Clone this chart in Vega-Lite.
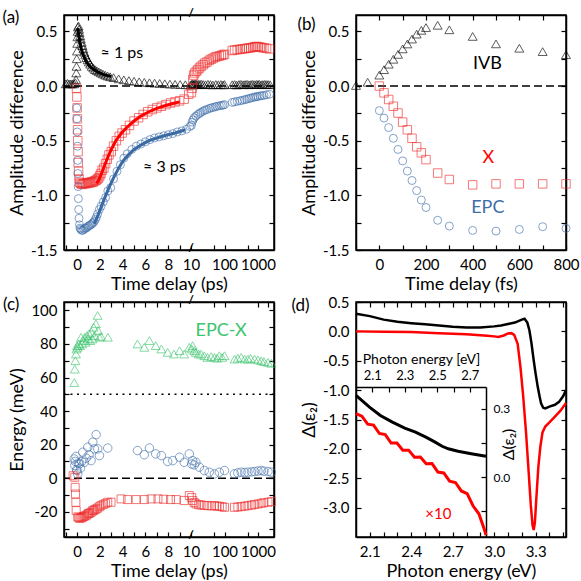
{
"$schema": "https://vega.github.io/schema/vega-lite/v6.json",
"padding": {"left": 1, "top": 6, "right": 0, "bottom": 0},
"config": {
 "font": "Lato",
 "view": {"stroke": "black", "strokeWidth": 1.5},
 "axis": {"grid": false, "domainColor": "black", "domainWidth": 1.5, "tickColor": "black", "tickWidth": 1.2, "tickSize": -5, "labelPadding": 12, "labelFont": "Lato", "labelFontSize": 15, "labelColor": "black", "titleFont": "Lato", "titleFontSize": 18, "titleFontWeight": "normal", "titleColor": "black", "titlePadding": 4, "labelFlush": false, "labelOverlap": false},
 "axisX": {"labelPadding": 12, "titlePadding": 3},
 "title": {"font": "Lato", "fontSize": 17, "fontWeight": "normal", "color": "black", "anchor": "start", "frame": "bounds", "offset": -20, "dx": -6},
 "text": {"font": "Lato"}
},
"resolve": {"scale": {"color": "independent", "stroke": "independent", "shape": "independent", "size": "independent", "strokeDash": "independent"}},
"datasets": {
 "a": [
  {"s":"IVB","t":-1.0,"v":0.02},{"s":"IVB","t":-0.85,"v":0.025},{"s":"IVB","t":-0.7,"v":0.02},{"s":"IVB","t":-0.55,"v":0.02},{"s":"IVB","t":-0.4,"v":0.02},{"s":"IVB","t":-0.25,"v":0.02},{"s":"IVB","t":-0.15,"v":0.03},{"s":"IVB","t":-0.1,"v":0.06},{"s":"IVB","t":-0.07,"v":0.12},{"s":"IVB","t":-0.05,"v":0.18},{"s":"IVB","t":-0.03,"v":0.25},{"s":"IVB","t":-0.01,"v":0.32},{"s":"IVB","t":0.01,"v":0.39},{"s":"IVB","t":0.03,"v":0.45},{"s":"IVB","t":0.05,"v":0.5},{"s":"IVB","t":0.08,"v":0.54},{"s":"IVB","t":0.12,"v":0.55},{"s":"IVB","t":0.17,"v":0.52},{"s":"IVB","t":0.22,"v":0.49},{"s":"IVB","t":0.27,"v":0.46},{"s":"IVB","t":0.33,"v":0.43},{"s":"IVB","t":0.4,"v":0.4},{"s":"IVB","t":0.47,"v":0.37},{"s":"IVB","t":0.55,"v":0.34},{"s":"IVB","t":0.63,"v":0.31},{"s":"IVB","t":0.72,"v":0.285},{"s":"IVB","t":0.82,"v":0.26},{"s":"IVB","t":0.92,"v":0.24},{"s":"IVB","t":1.03,"v":0.22},{"s":"IVB","t":1.15,"v":0.2},{"s":"IVB","t":1.28,"v":0.18},{"s":"IVB","t":1.42,"v":0.165},{"s":"IVB","t":1.57,"v":0.15},{"s":"IVB","t":1.73,"v":0.14},{"s":"IVB","t":1.9,"v":0.13},{"s":"IVB","t":2.08,"v":0.12},{"s":"IVB","t":2.27,"v":0.11},{"s":"IVB","t":2.47,"v":0.1},{"s":"IVB","t":2.68,"v":0.092},{"s":"IVB","t":2.9,"v":0.085},{"s":"IVB","t":3.2,"v":0.077},{"s":"IVB","t":3.65,"v":0.066},{"s":"IVB","t":4.1,"v":0.057},{"s":"IVB","t":4.55,"v":0.05},{"s":"IVB","t":5.0,"v":0.044},{"s":"IVB","t":5.45,"v":0.039},{"s":"IVB","t":5.9,"v":0.034},{"s":"IVB","t":6.35,"v":0.03},{"s":"IVB","t":6.8,"v":0.027},{"s":"IVB","t":7.25,"v":0.024},{"s":"IVB","t":7.7,"v":0.021},{"s":"IVB","t":8.15,"v":0.018},{"s":"IVB","t":8.6,"v":0.016},{"s":"IVB","t":9.05,"v":0.014},{"s":"IVB","t":9.5,"v":0.012},{"s":"IVB","t":9.95,"v":0.01},
  {"s":"IVB","t":10.5,"v":0.015},{"s":"IVB","t":11,"v":0.02},{"s":"IVB","t":11.6,"v":0.01},{"s":"IVB","t":12.3,"v":0.018},{"s":"IVB","t":13,"v":0.014},{"s":"IVB","t":14,"v":0.02},{"s":"IVB","t":15,"v":0.012},{"s":"IVB","t":16.5,"v":0.016},{"s":"IVB","t":18,"v":0.014},{"s":"IVB","t":20,"v":0.018},{"s":"IVB","t":23,"v":0.014},{"s":"IVB","t":27,"v":0.012},{"s":"IVB","t":32,"v":0.016},{"s":"IVB","t":38,"v":0.014},{"s":"IVB","t":45,"v":0.01},{"s":"IVB","t":55,"v":0.014},{"s":"IVB","t":65,"v":0.012},{"s":"IVB","t":78,"v":0.014},{"s":"IVB","t":90,"v":0.01},{"s":"IVB","t":100,"v":0.014},{"s":"IVB","t":170,"v":0.012},{"s":"IVB","t":200,"v":0.014},{"s":"IVB","t":230,"v":0.01},{"s":"IVB","t":270,"v":0.014},{"s":"IVB","t":310,"v":0.016},{"s":"IVB","t":360,"v":0.012},{"s":"IVB","t":410,"v":0.014},{"s":"IVB","t":470,"v":0.016},{"s":"IVB","t":540,"v":0.012},{"s":"IVB","t":620,"v":0.014},{"s":"IVB","t":700,"v":0.016},{"s":"IVB","t":800,"v":0.013},{"s":"IVB","t":900,"v":0.015},{"s":"IVB","t":1000,"v":0.014},{"s":"IVB","t":1100,"v":0.016},{"s":"IVB","t":1250,"v":0.012},{"s":"IVB","t":1400,"v":0.014},{"s":"IVB","t":1600,"v":0.016},{"s":"IVB","t":1800,"v":0.013},{"s":"IVB","t":2000,"v":0.014},{"s":"IVB","t":2300,"v":0.012},
  {"s":"X","t":-0.05,"v":-0.02},{"s":"X","t":-0.02,"v":-0.1},{"s":"X","t":0.0,"v":-0.2},{"s":"X","t":0.02,"v":-0.3},{"s":"X","t":0.04,"v":-0.4},{"s":"X","t":0.06,"v":-0.5},{"s":"X","t":0.08,"v":-0.6},{"s":"X","t":0.1,"v":-0.7},{"s":"X","t":0.13,"v":-0.78},{"s":"X","t":0.17,"v":-0.85},{"s":"X","t":0.22,"v":-0.88},{"s":"X","t":0.3,"v":-0.89},{"s":"X","t":0.4,"v":-0.9},{"s":"X","t":0.5,"v":-0.895},{"s":"X","t":0.6,"v":-0.89},{"s":"X","t":0.7,"v":-0.895},{"s":"X","t":0.8,"v":-0.89},{"s":"X","t":0.9,"v":-0.885},{"s":"X","t":1.0,"v":-0.89},{"s":"X","t":1.1,"v":-0.88},{"s":"X","t":1.2,"v":-0.885},{"s":"X","t":1.3,"v":-0.875},{"s":"X","t":1.4,"v":-0.88},{"s":"X","t":1.5,"v":-0.87},{"s":"X","t":1.6,"v":-0.865},{"s":"X","t":1.7,"v":-0.86},{"s":"X","t":1.8,"v":-0.85},{"s":"X","t":1.9,"v":-0.84},{"s":"X","t":2.0,"v":-0.82},{"s":"X","t":2.1,"v":-0.8},{"s":"X","t":2.2,"v":-0.77},{"s":"X","t":2.35,"v":-0.75},{"s":"X","t":2.5,"v":-0.71},{"s":"X","t":2.65,"v":-0.67},{"s":"X","t":2.8,"v":-0.63},{"s":"X","t":3.0,"v":-0.6},{"s":"X","t":3.2,"v":-0.55},{"s":"X","t":3.45,"v":-0.5},{"s":"X","t":3.7,"v":-0.46},{"s":"X","t":3.95,"v":-0.43},{"s":"X","t":4.25,"v":-0.4},{"s":"X","t":4.6,"v":-0.36},{"s":"X","t":5.0,"v":-0.32},{"s":"X","t":5.4,"v":-0.29},{"s":"X","t":5.8,"v":-0.26},{"s":"X","t":6.2,"v":-0.235},{"s":"X","t":6.6,"v":-0.215},{"s":"X","t":7.0,"v":-0.2},{"s":"X","t":7.4,"v":-0.185},{"s":"X","t":7.8,"v":-0.17},{"s":"X","t":8.2,"v":-0.155},{"s":"X","t":8.6,"v":-0.145},{"s":"X","t":9.0,"v":-0.135},{"s":"X","t":9.4,"v":-0.12},{"s":"X","t":9.8,"v":-0.075},
  {"s":"X","t":10.3,"v":-0.06},{"s":"X","t":10.8,"v":-0.02},{"s":"X","t":11.3,"v":0.06},{"s":"X","t":12,"v":0.1},{"s":"X","t":13,"v":0.12},{"s":"X","t":14.5,"v":0.135},{"s":"X","t":16,"v":0.15},{"s":"X","t":18,"v":0.165},{"s":"X","t":20,"v":0.18},{"s":"X","t":23,"v":0.195},{"s":"X","t":26,"v":0.21},{"s":"X","t":30,"v":0.22},{"s":"X","t":35,"v":0.235},{"s":"X","t":40,"v":0.245},{"s":"X","t":46,"v":0.255},{"s":"X","t":53,"v":0.265},{"s":"X","t":60,"v":0.27},{"s":"X","t":70,"v":0.275},{"s":"X","t":80,"v":0.28},{"s":"X","t":90,"v":0.285},{"s":"X","t":100,"v":0.29},{"s":"X","t":170,"v":0.325},{"s":"X","t":200,"v":0.33},{"s":"X","t":240,"v":0.333},{"s":"X","t":290,"v":0.336},{"s":"X","t":340,"v":0.34},{"s":"X","t":400,"v":0.342},{"s":"X","t":460,"v":0.345},{"s":"X","t":530,"v":0.348},{"s":"X","t":610,"v":0.35},{"s":"X","t":700,"v":0.355},{"s":"X","t":800,"v":0.36},{"s":"X","t":900,"v":0.362},{"s":"X","t":1000,"v":0.36},{"s":"X","t":1150,"v":0.357},{"s":"X","t":1300,"v":0.352},{"s":"X","t":1500,"v":0.35},{"s":"X","t":1800,"v":0.345},{"s":"X","t":2200,"v":0.34},
  {"s":"EPC","t":-0.03,"v":-0.2},{"s":"EPC","t":-0.01,"v":-0.3},{"s":"EPC","t":0.01,"v":-0.42},{"s":"EPC","t":0.03,"v":-0.55},{"s":"EPC","t":0.05,"v":-0.68},{"s":"EPC","t":0.07,"v":-0.8},{"s":"EPC","t":0.09,"v":-0.92},{"s":"EPC","t":0.11,"v":-1.03},{"s":"EPC","t":0.14,"v":-1.13},{"s":"EPC","t":0.17,"v":-1.21},{"s":"EPC","t":0.21,"v":-1.27},{"s":"EPC","t":0.26,"v":-1.3},{"s":"EPC","t":0.32,"v":-1.31},{"s":"EPC","t":0.4,"v":-1.32},{"s":"EPC","t":0.5,"v":-1.32},{"s":"EPC","t":0.6,"v":-1.31},{"s":"EPC","t":0.7,"v":-1.3},{"s":"EPC","t":0.8,"v":-1.3},{"s":"EPC","t":0.9,"v":-1.29},{"s":"EPC","t":1.0,"v":-1.28},{"s":"EPC","t":1.1,"v":-1.275},{"s":"EPC","t":1.2,"v":-1.27},{"s":"EPC","t":1.3,"v":-1.26},{"s":"EPC","t":1.4,"v":-1.25},{"s":"EPC","t":1.5,"v":-1.24},{"s":"EPC","t":1.6,"v":-1.22},{"s":"EPC","t":1.7,"v":-1.2},{"s":"EPC","t":1.8,"v":-1.17},{"s":"EPC","t":1.95,"v":-1.13},{"s":"EPC","t":2.1,"v":-1.1},{"s":"EPC","t":2.3,"v":-1.06},{"s":"EPC","t":2.5,"v":-1.02},{"s":"EPC","t":2.7,"v":-0.96},{"s":"EPC","t":2.95,"v":-0.93},{"s":"EPC","t":3.2,"v":-0.85},{"s":"EPC","t":3.5,"v":-0.78},{"s":"EPC","t":3.8,"v":-0.72},{"s":"EPC","t":4.1,"v":-0.66},{"s":"EPC","t":4.4,"v":-0.62},{"s":"EPC","t":4.8,"v":-0.58},{"s":"EPC","t":5.2,"v":-0.55},{"s":"EPC","t":5.6,"v":-0.53},{"s":"EPC","t":6.0,"v":-0.51},{"s":"EPC","t":6.4,"v":-0.49},{"s":"EPC","t":6.8,"v":-0.475},{"s":"EPC","t":7.2,"v":-0.465},{"s":"EPC","t":7.6,"v":-0.455},{"s":"EPC","t":8.0,"v":-0.445},{"s":"EPC","t":8.4,"v":-0.435},{"s":"EPC","t":8.8,"v":-0.42},{"s":"EPC","t":9.2,"v":-0.41},{"s":"EPC","t":9.6,"v":-0.395},{"s":"EPC","t":9.9,"v":-0.37},
  {"s":"EPC","t":10.3,"v":-0.36},{"s":"EPC","t":10.8,"v":-0.33},{"s":"EPC","t":11.5,"v":-0.31},{"s":"EPC","t":12.5,"v":-0.29},{"s":"EPC","t":14,"v":-0.275},{"s":"EPC","t":16,"v":-0.26},{"s":"EPC","t":18,"v":-0.25},{"s":"EPC","t":20,"v":-0.24},{"s":"EPC","t":23,"v":-0.23},{"s":"EPC","t":26,"v":-0.22},{"s":"EPC","t":30,"v":-0.215},{"s":"EPC","t":35,"v":-0.205},{"s":"EPC","t":40,"v":-0.2},{"s":"EPC","t":46,"v":-0.195},{"s":"EPC","t":53,"v":-0.19},{"s":"EPC","t":60,"v":-0.185},{"s":"EPC","t":70,"v":-0.18},{"s":"EPC","t":80,"v":-0.178},{"s":"EPC","t":90,"v":-0.175},{"s":"EPC","t":100,"v":-0.17},{"s":"EPC","t":170,"v":-0.15},{"s":"EPC","t":200,"v":-0.145},{"s":"EPC","t":240,"v":-0.14},{"s":"EPC","t":290,"v":-0.135},{"s":"EPC","t":340,"v":-0.13},{"s":"EPC","t":400,"v":-0.125},{"s":"EPC","t":460,"v":-0.12},{"s":"EPC","t":530,"v":-0.115},{"s":"EPC","t":610,"v":-0.11},{"s":"EPC","t":700,"v":-0.105},{"s":"EPC","t":800,"v":-0.1},{"s":"EPC","t":900,"v":-0.097},{"s":"EPC","t":1000,"v":-0.095},{"s":"EPC","t":1150,"v":-0.09},{"s":"EPC","t":1300,"v":-0.088},{"s":"EPC","t":1500,"v":-0.085},{"s":"EPC","t":1800,"v":-0.08},{"s":"EPC","t":2200,"v":-0.075}
 ],
 "afit": [
  {"s":"IVB","t":0.05,"v":0.53},{"s":"IVB","t":0.15,"v":0.46},{"s":"IVB","t":0.25,"v":0.4},{"s":"IVB","t":0.35,"v":0.35},{"s":"IVB","t":0.45,"v":0.31},{"s":"IVB","t":0.6,"v":0.27},{"s":"IVB","t":0.8,"v":0.225},{"s":"IVB","t":1.0,"v":0.195},{"s":"IVB","t":1.25,"v":0.168},{"s":"IVB","t":1.5,"v":0.148},{"s":"IVB","t":1.8,"v":0.128},{"s":"IVB","t":2.1,"v":0.115},{"s":"IVB","t":2.4,"v":0.103},{"s":"IVB","t":2.7,"v":0.095},{"s":"IVB","t":3.0,"v":0.088},
  {"s":"X","t":1.7,"v":-0.89},{"s":"X","t":1.9,"v":-0.86},{"s":"X","t":2.1,"v":-0.81},{"s":"X","t":2.4,"v":-0.73},{"s":"X","t":2.7,"v":-0.65},{"s":"X","t":3.0,"v":-0.58},{"s":"X","t":3.4,"v":-0.5},{"s":"X","t":3.9,"v":-0.43},{"s":"X","t":4.4,"v":-0.375},{"s":"X","t":5.0,"v":-0.32},{"s":"X","t":5.6,"v":-0.275},{"s":"X","t":6.3,"v":-0.235},{"s":"X","t":7.0,"v":-0.205},{"s":"X","t":7.7,"v":-0.18},{"s":"X","t":8.4,"v":-0.16},{"s":"X","t":9.0,"v":-0.145},
  {"s":"EPC","t":1.5,"v":-1.26},{"s":"EPC","t":1.8,"v":-1.19},{"s":"EPC","t":2.1,"v":-1.11},{"s":"EPC","t":2.4,"v":-1.03},{"s":"EPC","t":2.8,"v":-0.93},{"s":"EPC","t":3.2,"v":-0.84},{"s":"EPC","t":3.6,"v":-0.76},{"s":"EPC","t":4.0,"v":-0.69},{"s":"EPC","t":4.5,"v":-0.63},{"s":"EPC","t":5.0,"v":-0.58},{"s":"EPC","t":5.6,"v":-0.54},{"s":"EPC","t":6.3,"v":-0.5},{"s":"EPC","t":7.0,"v":-0.475},{"s":"EPC","t":7.8,"v":-0.45},{"s":"EPC","t":8.6,"v":-0.43},{"s":"EPC","t":9.5,"v":-0.4}
 ],
 "b": [
  {"s":"IVB","t":-100,"v":0.005},{"s":"IVB","t":-50,"v":0.035},{"s":"IVB","t":0,"v":0.1},{"s":"IVB","t":20,"v":0.15},{"s":"IVB","t":40,"v":0.2},{"s":"IVB","t":60,"v":0.245},{"s":"IVB","t":80,"v":0.29},{"s":"IVB","t":100,"v":0.34},{"s":"IVB","t":120,"v":0.385},{"s":"IVB","t":140,"v":0.43},{"s":"IVB","t":160,"v":0.475},{"s":"IVB","t":180,"v":0.51},{"s":"IVB","t":200,"v":0.535},{"s":"IVB","t":250,"v":0.556},{"s":"IVB","t":300,"v":0.515},{"s":"IVB","t":400,"v":0.454},{"s":"IVB","t":500,"v":0.386},{"s":"IVB","t":600,"v":0.346},{"s":"IVB","t":700,"v":0.315},{"s":"IVB","t":800,"v":0.287},
  {"s":"X","t":0,"v":0.0},{"s":"X","t":20,"v":-0.062},{"s":"X","t":40,"v":-0.123},{"s":"X","t":60,"v":-0.185},{"s":"X","t":80,"v":-0.247},{"s":"X","t":100,"v":-0.33},{"s":"X","t":120,"v":-0.4},{"s":"X","t":140,"v":-0.478},{"s":"X","t":160,"v":-0.556},{"s":"X","t":180,"v":-0.611},{"s":"X","t":200,"v":-0.673},{"s":"X","t":250,"v":-0.796},{"s":"X","t":300,"v":-0.855},{"s":"X","t":400,"v":-0.904},{"s":"X","t":500,"v":-0.895},{"s":"X","t":600,"v":-0.895},{"s":"X","t":700,"v":-0.895},{"s":"X","t":800,"v":-0.895},
  {"s":"EPC","t":0,"v":-0.225},{"s":"EPC","t":20,"v":-0.293},{"s":"EPC","t":40,"v":-0.38},{"s":"EPC","t":60,"v":-0.478},{"s":"EPC","t":80,"v":-0.58},{"s":"EPC","t":100,"v":-0.685},{"s":"EPC","t":120,"v":-0.778},{"s":"EPC","t":140,"v":-0.864},{"s":"EPC","t":160,"v":-0.957},{"s":"EPC","t":180,"v":-1.043},{"s":"EPC","t":200,"v":-1.111},{"s":"EPC","t":250,"v":-1.228},{"s":"EPC","t":300,"v":-1.281},{"s":"EPC","t":400,"v":-1.321},{"s":"EPC","t":500,"v":-1.327},{"s":"EPC","t":600,"v":-1.312},{"s":"EPC","t":700,"v":-1.287},{"s":"EPC","t":800,"v":-1.302}
 ],
 "c": [
  {"s":"EPC-X","t":-0.25,"e":57},{"s":"EPC-X","t":-0.2,"e":65},{"s":"EPC-X","t":-0.15,"e":70},{"s":"EPC-X","t":-0.1,"e":74},{"s":"EPC-X","t":-0.05,"e":77},{"s":"EPC-X","t":0,"e":79},{"s":"EPC-X","t":0.05,"e":78},{"s":"EPC-X","t":0.15,"e":80},{"s":"EPC-X","t":0.25,"e":79},{"s":"EPC-X","t":0.35,"e":84},{"s":"EPC-X","t":0.45,"e":80},{"s":"EPC-X","t":0.55,"e":82},{"s":"EPC-X","t":0.65,"e":84},{"s":"EPC-X","t":0.75,"e":81},{"s":"EPC-X","t":0.85,"e":85},{"s":"EPC-X","t":0.95,"e":83},{"s":"EPC-X","t":1.05,"e":86},{"s":"EPC-X","t":1.15,"e":82},{"s":"EPC-X","t":1.25,"e":87},{"s":"EPC-X","t":1.35,"e":83},{"s":"EPC-X","t":1.45,"e":90},{"s":"EPC-X","t":1.55,"e":85},{"s":"EPC-X","t":1.65,"e":92},{"s":"EPC-X","t":1.8,"e":97},{"s":"EPC-X","t":1.85,"e":88},{"s":"EPC-X","t":1.95,"e":84},{"s":"EPC-X","t":2.1,"e":84.5},{"s":"EPC-X","t":2.7,"e":84},{"s":"EPC-X","t":5.3,"e":80},{"s":"EPC-X","t":5.9,"e":78},{"s":"EPC-X","t":6.35,"e":82},{"s":"EPC-X","t":6.9,"e":79},{"s":"EPC-X","t":7.4,"e":77},{"s":"EPC-X","t":7.95,"e":75},{"s":"EPC-X","t":8.5,"e":74},{"s":"EPC-X","t":9.0,"e":76},{"s":"EPC-X","t":9.4,"e":74},{"s":"EPC-X","t":9.85,"e":78},{"s":"EPC-X","t":10.5,"e":77},{"s":"EPC-X","t":11.2,"e":79},{"s":"EPC-X","t":12.5,"e":76},{"s":"EPC-X","t":14,"e":75},{"s":"EPC-X","t":17,"e":74},{"s":"EPC-X","t":20,"e":74},{"s":"EPC-X","t":25,"e":73},{"s":"EPC-X","t":31,"e":72},{"s":"EPC-X","t":40,"e":72.5},{"s":"EPC-X","t":50,"e":72},{"s":"EPC-X","t":60,"e":71.5},{"s":"EPC-X","t":70,"e":73},{"s":"EPC-X","t":85,"e":72},{"s":"EPC-X","t":100,"e":73},{"s":"EPC-X","t":200,"e":71},{"s":"EPC-X","t":250,"e":71.5},{"s":"EPC-X","t":314,"e":72},{"s":"EPC-X","t":400,"e":71},{"s":"EPC-X","t":500,"e":71},{"s":"EPC-X","t":600,"e":71.5},{"s":"EPC-X","t":786,"e":71},{"s":"EPC-X","t":1000,"e":70.5},{"s":"EPC-X","t":1250,"e":70},{"s":"EPC-X","t":1500,"e":69.5},{"s":"EPC-X","t":1985,"e":69},{"s":"EPC-X","t":2500,"e":68.5},
  {"s":"EPC","t":-0.25,"e":11.5},{"s":"EPC","t":-0.2,"e":7.6},{"s":"EPC","t":-0.15,"e":10},{"s":"EPC","t":-0.1,"e":13},{"s":"EPC","t":-0.05,"e":5},{"s":"EPC","t":0,"e":4.6},{"s":"EPC","t":0.05,"e":2.6},{"s":"EPC","t":0.1,"e":9},{"s":"EPC","t":0.2,"e":8.5},{"s":"EPC","t":0.3,"e":6},{"s":"EPC","t":0.4,"e":10},{"s":"EPC","t":0.5,"e":15.5},{"s":"EPC","t":0.64,"e":9.5},{"s":"EPC","t":0.8,"e":12},{"s":"EPC","t":0.94,"e":18.5},{"s":"EPC","t":1.05,"e":14},{"s":"EPC","t":1.23,"e":10.5},{"s":"EPC","t":1.38,"e":21.5},{"s":"EPC","t":1.52,"e":17.5},{"s":"EPC","t":1.67,"e":26},{"s":"EPC","t":1.81,"e":17.5},{"s":"EPC","t":1.96,"e":13.5},{"s":"EPC","t":2.69,"e":18},{"s":"EPC","t":5.3,"e":16.5},{"s":"EPC","t":5.9,"e":14},{"s":"EPC","t":6.35,"e":18},{"s":"EPC","t":6.9,"e":14.5},{"s":"EPC","t":7.4,"e":13.5},{"s":"EPC","t":7.95,"e":10},{"s":"EPC","t":8.4,"e":10.5},{"s":"EPC","t":9.0,"e":12.5},{"s":"EPC","t":9.4,"e":9.5},{"s":"EPC","t":9.85,"e":14.5},{"s":"EPC","t":10.5,"e":8.5},{"s":"EPC","t":11.2,"e":10.5},{"s":"EPC","t":12.5,"e":8},{"s":"EPC","t":14,"e":9.5},{"s":"EPC","t":17.7,"e":6.6},{"s":"EPC","t":25,"e":4.6},{"s":"EPC","t":35,"e":3.6},{"s":"EPC","t":50,"e":2.6},{"s":"EPC","t":70,"e":3.6},{"s":"EPC","t":100,"e":4.6},{"s":"EPC","t":198,"e":2.6},{"s":"EPC","t":250,"e":3.2},{"s":"EPC","t":314,"e":3.6},{"s":"EPC","t":400,"e":3.4},{"s":"EPC","t":500,"e":3.6},{"s":"EPC","t":640,"e":3.8},{"s":"EPC","t":786,"e":4},{"s":"EPC","t":1000,"e":4.3},{"s":"EPC","t":1250,"e":4.6},{"s":"EPC","t":1500,"e":4.2},{"s":"EPC","t":1985,"e":4},{"s":"EPC","t":2500,"e":3.6},
  {"s":"X","t":-0.35,"e":1.5},{"s":"X","t":-0.2,"e":0.6},{"s":"X","t":-0.17,"e":-5.4},{"s":"X","t":-0.14,"e":-9.4},{"s":"X","t":-0.11,"e":-14.3},{"s":"X","t":-0.08,"e":-19.3},{"s":"X","t":0.06,"e":-23},{"s":"X","t":0.15,"e":-23.5},{"s":"X","t":0.25,"e":-24},{"s":"X","t":0.35,"e":-23.3},{"s":"X","t":0.45,"e":-23.5},{"s":"X","t":0.55,"e":-22.8},{"s":"X","t":0.65,"e":-22.5},{"s":"X","t":0.79,"e":-22.3},{"s":"X","t":0.9,"e":-21.5},{"s":"X","t":1.0,"e":-21},{"s":"X","t":1.1,"e":-20.8},{"s":"X","t":1.23,"e":-20.3},{"s":"X","t":1.35,"e":-19.5},{"s":"X","t":1.45,"e":-19.2},{"s":"X","t":1.55,"e":-18.7},{"s":"X","t":1.67,"e":-18.3},{"s":"X","t":1.8,"e":-17.8},{"s":"X","t":1.95,"e":-17},{"s":"X","t":2.1,"e":-16.3},{"s":"X","t":2.3,"e":-15.6},{"s":"X","t":2.5,"e":-15},{"s":"X","t":2.69,"e":-14.3},{"s":"X","t":2.98,"e":-14.3},{"s":"X","t":3.86,"e":-12.3},{"s":"X","t":4.44,"e":-12.7},{"s":"X","t":5.18,"e":-12.7},{"s":"X","t":5.9,"e":-12.7},{"s":"X","t":6.5,"e":-12.3},{"s":"X","t":7.1,"e":-12.3},{"s":"X","t":7.6,"e":-12.5},{"s":"X","t":8.2,"e":-12.7},{"s":"X","t":8.7,"e":-12.7},{"s":"X","t":9.4,"e":-13.3},{"s":"X","t":9.85,"e":-10.3},{"s":"X","t":10.5,"e":-11.5},{"s":"X","t":11.2,"e":-13.3},{"s":"X","t":12.5,"e":-14.5},{"s":"X","t":14.1,"e":-15.3},{"s":"X","t":17,"e":-15.8},{"s":"X","t":20,"e":-15.9},{"s":"X","t":25,"e":-16.2},{"s":"X","t":31.6,"e":-16.3},{"s":"X","t":40,"e":-16.5},{"s":"X","t":50,"e":-16.3},{"s":"X","t":60,"e":-16.6},{"s":"X","t":70.6,"e":-16.7},{"s":"X","t":85,"e":-17},{"s":"X","t":100,"e":-17.3},{"s":"X","t":198,"e":-17.3},{"s":"X","t":250,"e":-17.1},{"s":"X","t":314,"e":-16.9},{"s":"X","t":400,"e":-16.6},{"s":"X","t":500,"e":-16.3},{"s":"X","t":640,"e":-16},{"s":"X","t":786,"e":-15.7},{"s":"X","t":1000,"e":-15.3},{"s":"X","t":1250,"e":-14.9},{"s":"X","t":1500,"e":-14.6},{"s":"X","t":1985,"e":-14.3},{"s":"X","t":2500,"e":-13.9}
 ],
 "d": [
  {"s":"k","x":2.0,"y":0.3},{"s":"k","x":2.1,"y":0.26},{"s":"k","x":2.2,"y":0.2},{"s":"k","x":2.3,"y":0.165},{"s":"k","x":2.4,"y":0.14},{"s":"k","x":2.5,"y":0.12},{"s":"k","x":2.6,"y":0.1},{"s":"k","x":2.7,"y":0.08},{"s":"k","x":2.8,"y":0.068},{"s":"k","x":2.9,"y":0.065},{"s":"k","x":3.0,"y":0.085},{"s":"k","x":3.05,"y":0.1},{"s":"k","x":3.1,"y":0.125},{"s":"k","x":3.15,"y":0.15},{"s":"k","x":3.2,"y":0.2},{"s":"k","x":3.22,"y":0.215},{"s":"k","x":3.24,"y":0.15},{"s":"k","x":3.255,"y":0.02},{"s":"k","x":3.27,"y":-0.2},{"s":"k","x":3.286,"y":-0.49},{"s":"k","x":3.3,"y":-0.72},{"s":"k","x":3.315,"y":-0.94},{"s":"k","x":3.33,"y":-1.12},{"s":"k","x":3.34,"y":-1.23},{"s":"k","x":3.355,"y":-1.3},{"s":"k","x":3.37,"y":-1.31},{"s":"k","x":3.4,"y":-1.28},{"s":"k","x":3.44,"y":-1.25},{"s":"k","x":3.47,"y":-1.2},{"s":"k","x":3.5,"y":-1.1},{"s":"k","x":3.52,"y":-1.0},
  {"s":"r","x":2.0,"y":0.0},{"s":"r","x":2.2,"y":-0.005},{"s":"r","x":2.4,"y":-0.01},{"s":"r","x":2.6,"y":-0.03},{"s":"r","x":2.8,"y":-0.05},{"s":"r","x":2.95,"y":-0.075},{"s":"r","x":3.0,"y":-0.085},{"s":"r","x":3.03,"y":-0.095},{"s":"r","x":3.07,"y":-0.07},{"s":"r","x":3.1,"y":-0.035},{"s":"r","x":3.125,"y":-0.03},{"s":"r","x":3.145,"y":-0.06},{"s":"r","x":3.17,"y":-0.21},{"s":"r","x":3.19,"y":-0.6},{"s":"r","x":3.21,"y":-1.1},{"s":"r","x":3.23,"y":-1.7},{"s":"r","x":3.25,"y":-2.4},{"s":"r","x":3.265,"y":-2.95},{"s":"r","x":3.278,"y":-3.3},{"s":"r","x":3.286,"y":-3.38},{"s":"r","x":3.295,"y":-3.25},{"s":"r","x":3.305,"y":-2.85},{"s":"r","x":3.32,"y":-2.3},{"s":"r","x":3.335,"y":-1.95},{"s":"r","x":3.35,"y":-1.72},{"s":"r","x":3.37,"y":-1.62},{"s":"r","x":3.4,"y":-1.55},{"s":"r","x":3.44,"y":-1.45},{"s":"r","x":3.48,"y":-1.35},{"s":"r","x":3.52,"y":-1.22}
 ],
 "dins": [
  {"s":"k","x":2.0,"y":0.358},{"s":"k","x":2.083,"y":0.307},{"s":"k","x":2.15,"y":0.27},{"s":"k","x":2.224,"y":0.241},{"s":"k","x":2.3,"y":0.215},{"s":"k","x":2.366,"y":0.197},{"s":"k","x":2.43,"y":0.175},{"s":"k","x":2.487,"y":0.153},{"s":"k","x":2.53,"y":0.135},{"s":"k","x":2.568,"y":0.124},{"s":"k","x":2.628,"y":0.113},{"s":"k","x":2.709,"y":0.102},{"s":"k","x":2.8,"y":0.091},
  {"s":"r","x":2.0,"y":0.278},{"s":"r","x":2.036,"y":0.267},{"s":"r","x":2.072,"y":0.232},{"s":"r","x":2.108,"y":0.228},{"s":"r","x":2.144,"y":0.191},{"s":"r","x":2.18,"y":0.186},{"s":"r","x":2.216,"y":0.149},{"s":"r","x":2.252,"y":0.149},{"s":"r","x":2.288,"y":0.118},{"s":"r","x":2.324,"y":0.118},{"s":"r","x":2.36,"y":0.087},{"s":"r","x":2.396,"y":0.088},{"s":"r","x":2.432,"y":0.058},{"s":"r","x":2.468,"y":0.059},{"s":"r","x":2.504,"y":0.022},{"s":"r","x":2.54,"y":0.018},{"s":"r","x":2.576,"y":-0.018},{"s":"r","x":2.612,"y":-0.024},{"s":"r","x":2.648,"y":-0.061},{"s":"r","x":2.684,"y":-0.073},{"s":"r","x":2.72,"y":-0.126},{"s":"r","x":2.756,"y":-0.161},{"s":"r","x":2.79,"y":-0.23},{"s":"r","x":2.8,"y":-0.255}
 ]
},
"bounds": "flush",
"columns": 2,
"spacing": {"row": 52, "column": 82},
"concat": [
 {"width": 210, "height": 235, "title": {"text": "(a)"},
  "resolve": {"scale": {"x": "independent"}, "axis": {"x": "independent", "y": "independent"}},
  "layer": [
   {"resolve": {"axis": {"x": "independent", "y": "independent"}},
    "layer": [
     {"data": {"values": [{"v": 0}]}, "mark": {"type": "rule", "strokeDash": [8, 4], "strokeWidth": 1.5, "color": "black"},
      "encoding": {"y": {"field": "v", "type": "quantitative", "scale": {"domain": [-1.5, 0.65], "nice": false, "zero": false}, "axis": null}}},
     {"data": {"name": "a"}, "transform": [{"filter": "datum.t <= 10"}], "mark": {"type": "point", "filled": false, "strokeWidth": 1, "strokeOpacity": 0.9},
      "encoding": {
       "x": {"field": "t", "type": "quantitative", "scale": {"domain": [-1.15, 10], "range": [0, 127], "nice": false, "zero": false}, "axis": {"orient": "bottom", "title": "Time delay (ps)", "titleX": 105, "values": [-1,0,1,2,3,4,5,6,7,8,9,10], "labelExpr": "datum.value % 2 == 0 && datum.value >= 0 ? format(datum.value, 'd') : ''"}},
       "y": {"field": "v", "type": "quantitative", "scale": {"domain": [-1.5, 0.65], "nice": false, "zero": false}, "axis": {"orient": "left", "title": "Amplitude difference", "values": [-1.5,-1.25,-1,-0.75,-0.5,-0.25,0,0.25,0.5], "labelExpr": "datum.value % 0.5 == 0 ? replace(format(datum.value, '.1f'), '\u2212', '-') : ''"}},
       "shape": {"field": "s", "type": "nominal", "scale": {"domain": ["IVB","X","EPC"], "range": ["triangle-up","square","circle"]}, "legend": null},
       "stroke": {"field": "s", "type": "nominal", "scale": {"domain": ["IVB","X","EPC"], "range": ["#000000","#ee2a2a","#3f6ea8"]}, "legend": null},
       "size": {"field": "s", "type": "ordinal", "scale": {"domain": ["IVB","X","EPC"], "range": [80, 64, 64]}, "legend": null}}},
     {"data": {"name": "afit"}, "mark": {"type": "line", "strokeWidth": 3},
      "encoding": {
       "x": {"field": "t", "type": "quantitative", "scale": {"domain": [-1.15, 10], "range": [0, 127], "nice": false, "zero": false}, "axis": null},
       "y": {"field": "v", "type": "quantitative", "scale": {"domain": [-1.5, 0.65], "nice": false, "zero": false}, "axis": null},
       "color": {"field": "s", "type": "nominal", "scale": {"domain": ["IVB","X","EPC"], "range": ["#000000","#ff0000","#3a6aa3"]}, "legend": null}}},
     {"data": {"values": [{"t": 3.93, "v": 0.3, "label": "≈ 1 ps"}, {"t": 7.66, "v": -0.74, "label": "≈ 3 ps"}]}, "mark": {"type": "text", "fontSize": 16, "color": "black"},
      "encoding": {
       "x": {"field": "t", "type": "quantitative", "scale": {"domain": [-1.15, 10], "range": [0, 127], "nice": false, "zero": false}, "axis": null},
       "y": {"field": "v", "type": "quantitative", "scale": {"domain": [-1.5, 0.65], "nice": false, "zero": false}, "axis": null},
       "text": {"field": "label"}}},
     {"data": {"values": [{"t": 10, "v": 0.65}, {"t": 10, "v": -1.5}]}, "mark": {"type": "text", "text": "/", "fontSize": 12, "fontWeight": "bold", "color": "black", "dy": -2},
      "encoding": {
       "x": {"field": "t", "type": "quantitative", "scale": {"domain": [-1.15, 10], "range": [0, 127], "nice": false, "zero": false}, "axis": null},
       "y": {"field": "v", "type": "quantitative", "scale": {"domain": [-1.5, 0.65], "nice": false, "zero": false}, "axis": null}}},
     {"data": {"name": "afit"}, "mark": {"type": "point", "opacity": 0},
      "encoding": {
       "x": {"field": "t", "type": "quantitative", "scale": {"domain": [-1.15, 10], "range": [0, 127], "nice": false, "zero": false}, "axis": {"orient": "top", "labels": false, "title": null, "values": [0,1,2,3,4,5,6,7,8,9]}},
       "y": {"field": "v", "type": "quantitative", "scale": {"domain": [-1.5, 0.65], "nice": false, "zero": false}, "axis": null}}}
    ]},
   {"resolve": {"axis": {"x": "independent", "y": "independent"}},
    "layer": [
     {"data": {"name": "a"}, "transform": [{"filter": "datum.t > 10"}], "mark": {"type": "point", "filled": false, "strokeWidth": 1, "strokeOpacity": 0.9},
      "encoding": {
       "x": {"field": "t", "type": "quantitative", "scale": {"type": "log", "domain": [10, 3000], "range": [127, 210], "nice": false}, "axis": {"orient": "bottom", "title": null, "values": [50, 100, 500, 1000], "labelExpr": "datum.value == 100 || datum.value == 1000 ? format(datum.value, 'd') : ''"}},
       "y": {"field": "v", "type": "quantitative", "scale": {"domain": [-1.5, 0.65], "nice": false, "zero": false}, "axis": null},
       "shape": {"field": "s", "type": "nominal", "scale": {"domain": ["IVB","X","EPC"], "range": ["triangle-up","square","circle"]}, "legend": null},
       "stroke": {"field": "s", "type": "nominal", "scale": {"domain": ["IVB","X","EPC"], "range": ["#000000","#ee2a2a","#3f6ea8"]}, "legend": null},
       "size": {"field": "s", "type": "ordinal", "scale": {"domain": ["IVB","X","EPC"], "range": [80, 64, 64]}, "legend": null}}},
     {"data": {"name": "a"}, "transform": [{"filter": "datum.t > 10"}], "mark": {"type": "point", "opacity": 0},
      "encoding": {
       "x": {"field": "t", "type": "quantitative", "scale": {"type": "log", "domain": [10, 3000], "range": [127, 210], "nice": false}, "axis": {"orient": "top", "labels": false, "title": null, "values": [50, 100, 1000, 2000]}},
       "y": {"field": "v", "type": "quantitative", "scale": {"domain": [-1.5, 0.65], "nice": false, "zero": false}, "axis": {"orient": "right", "labels": false, "title": null, "values": [-1.25,-1,-0.75,-0.5,-0.25,0,0.25,0.5]}}}}
    ]}
  ]},
 {"width": 210, "height": 235, "title": {"text": "(b)", "dx": -3},
  "resolve": {"axis": {"x": "independent", "y": "independent"}},
  "layer": [
   {"data": {"values": [{"v": 0}]}, "mark": {"type": "rule", "strokeDash": [8, 4], "strokeWidth": 1.5, "color": "black"},
    "encoding": {"y": {"field": "v", "type": "quantitative", "scale": {"domain": [-1.5, 0.65], "nice": false, "zero": false}, "axis": null}}},
   {"data": {"name": "b"}, "mark": {"type": "point", "filled": false, "strokeWidth": 1, "strokeOpacity": 0.9},
    "encoding": {
     "x": {"field": "t", "type": "quantitative", "scale": {"domain": [-100, 800], "nice": false, "zero": false}, "axis": {"orient": "bottom", "title": "Time delay (fs)", "values": [-100,0,100,200,300,400,500,600,700,800], "labelExpr": "datum.value % 200 == 0 ? format(datum.value, 'd') : ''"}},
     "y": {"field": "v", "type": "quantitative", "scale": {"domain": [-1.5, 0.65], "nice": false, "zero": false}, "axis": {"orient": "left", "title": "Amplitude difference", "values": [-1.5,-1.25,-1,-0.75,-0.5,-0.25,0,0.25,0.5], "labelExpr": "datum.value % 0.5 == 0 ? replace(format(datum.value, '.1f'), '\u2212', '-') : ''"}},
     "shape": {"field": "s", "type": "nominal", "scale": {"domain": ["IVB","X","EPC"], "range": ["triangle-up","square","circle"]}, "legend": null},
     "stroke": {"field": "s", "type": "nominal", "scale": {"domain": ["IVB","X","EPC"], "range": ["#000000","#ee2a2a","#3f6ea8"]}, "legend": null},
     "size": {"field": "s", "type": "ordinal", "scale": {"domain": ["IVB","X","EPC"], "range": [80, 64, 64]}, "legend": null}}},
   {"data": {"values": [{"t": 463, "v": 0.198, "label": "IVB", "s": "IVB"}, {"t": 467, "v": -0.656, "label": "X", "s": "X"}, {"t": 465, "v": -1.113, "label": "EPC", "s": "EPC"}]},
    "mark": {"type": "text", "fontSize": 18},
    "encoding": {
     "x": {"field": "t", "type": "quantitative", "scale": {"domain": [-100, 800], "nice": false, "zero": false}, "axis": null},
     "y": {"field": "v", "type": "quantitative", "scale": {"domain": [-1.5, 0.65], "nice": false, "zero": false}, "axis": null},
     "text": {"field": "label"},
     "color": {"field": "s", "type": "nominal", "scale": {"domain": ["IVB","X","EPC"], "range": ["#000000","#ff0000","#3f6ea8"]}, "legend": null}}},
   {"data": {"name": "b"}, "mark": {"type": "point", "opacity": 0},
    "encoding": {
     "x": {"field": "t", "type": "quantitative", "scale": {"domain": [-100, 800], "nice": false, "zero": false}, "axis": {"orient": "top", "labels": false, "title": null, "values": [0,100,200,300,400,500,600,700]}},
     "y": {"field": "v", "type": "quantitative", "scale": {"domain": [-1.5, 0.65], "nice": false, "zero": false}, "axis": {"orient": "right", "labels": false, "title": null, "values": [-1.25,-1,-0.75,-0.5,-0.25,0,0.25,0.5]}}}}
  ]},
 {"width": 210, "height": 235, "title": {"text": "(c)"},
  "resolve": {"scale": {"x": "independent"}, "axis": {"x": "independent", "y": "independent"}},
  "layer": [
   {"resolve": {"axis": {"x": "independent", "y": "independent"}},
    "layer": [
     {"data": {"values": [{"e": 0, "k": "dash"}, {"e": 50, "k": "dot"}]}, "mark": {"type": "rule", "strokeWidth": 1.5, "color": "black"},
      "encoding": {"y": {"field": "e", "type": "quantitative", "scale": {"domain": [-35, 105], "nice": false, "zero": false}, "axis": null},
       "strokeDash": {"field": "k", "type": "nominal", "scale": {"domain": ["dash", "dot"], "range": [[8, 4], [2, 4.5]]}, "legend": null}}},
     {"data": {"name": "c"}, "transform": [{"filter": "datum.t <= 10"}], "mark": {"type": "point", "filled": false, "strokeWidth": 1, "strokeOpacity": 0.9},
      "encoding": {
       "x": {"field": "t", "type": "quantitative", "scale": {"domain": [-1.15, 10], "range": [0, 127], "nice": false, "zero": false}, "axis": {"orient": "bottom", "title": "Time delay (ps)", "titleX": 105, "values": [-1,0,1,2,3,4,5,6,7,8,9,10], "labelExpr": "datum.value % 2 == 0 && datum.value >= 0 ? format(datum.value, 'd') : ''"}},
       "y": {"field": "e", "type": "quantitative", "scale": {"domain": [-35, 105], "nice": false, "zero": false}, "axis": {"orient": "left", "title": "Energy (meV)", "values": [-30,-20,-10,0,10,20,30,40,50,60,70,80,90,100], "labelExpr": "datum.value % 20 == 0 ? replace(format(datum.value, 'd'), '\u2212', '-') : ''"}},
       "shape": {"field": "s", "type": "nominal", "scale": {"domain": ["EPC-X","EPC","X"], "range": ["triangle-up","circle","square"]}, "legend": null},
       "stroke": {"field": "s", "type": "nominal", "scale": {"domain": ["EPC-X","EPC","X"], "range": ["#3cc46e","#3f6ea8","#ee2a2a"]}, "legend": null},
       "size": {"field": "s", "type": "ordinal", "scale": {"domain": ["EPC-X","EPC","X"], "range": [80, 64, 64]}, "legend": null}}},
     {"data": {"values": [{"t": 10, "e": 105}, {"t": 10, "e": -35}]}, "mark": {"type": "text", "text": "/", "fontSize": 12, "fontWeight": "bold", "color": "black", "dy": -2},
      "encoding": {
       "x": {"field": "t", "type": "quantitative", "scale": {"domain": [-1.15, 10], "range": [0, 127], "nice": false, "zero": false}, "axis": null},
       "y": {"field": "e", "type": "quantitative", "scale": {"domain": [-35, 105], "nice": false, "zero": false}, "axis": null}}},
     {"data": {"name": "c"}, "transform": [{"filter": "datum.t <= 10"}], "mark": {"type": "point", "opacity": 0},
      "encoding": {
       "x": {"field": "t", "type": "quantitative", "scale": {"domain": [-1.15, 10], "range": [0, 127], "nice": false, "zero": false}, "axis": {"orient": "top", "labels": false, "title": null, "values": [0,1,2,3,4,5,6,7,8,9]}},
       "y": {"field": "e", "type": "quantitative", "scale": {"domain": [-35, 105], "nice": false, "zero": false}, "axis": null}}}
    ]},
   {"resolve": {"axis": {"x": "independent", "y": "independent"}},
    "layer": [
     {"data": {"name": "c"}, "transform": [{"filter": "datum.t > 10"}], "mark": {"type": "point", "filled": false, "strokeWidth": 1, "strokeOpacity": 0.9},
      "encoding": {
       "x": {"field": "t", "type": "quantitative", "scale": {"type": "log", "domain": [10, 3000], "range": [127, 210], "nice": false}, "axis": {"orient": "bottom", "title": null, "values": [50, 100, 500, 1000], "labelExpr": "datum.value == 100 || datum.value == 1000 ? format(datum.value, 'd') : ''"}},
       "y": {"field": "e", "type": "quantitative", "scale": {"domain": [-35, 105], "nice": false, "zero": false}, "axis": null},
       "shape": {"field": "s", "type": "nominal", "scale": {"domain": ["EPC-X","EPC","X"], "range": ["triangle-up","circle","square"]}, "legend": null},
       "stroke": {"field": "s", "type": "nominal", "scale": {"domain": ["EPC-X","EPC","X"], "range": ["#3cc46e","#3f6ea8","#ee2a2a"]}, "legend": null},
       "size": {"field": "s", "type": "ordinal", "scale": {"domain": ["EPC-X","EPC","X"], "range": [80, 64, 64]}, "legend": null}}},
     {"data": {"values": [{"t": 79, "e": 88, "label": "EPC-X"}]}, "mark": {"type": "text", "fontSize": 18, "color": "#3cc46e"},
      "encoding": {
       "x": {"field": "t", "type": "quantitative", "scale": {"type": "log", "domain": [10, 3000], "range": [127, 210], "nice": false}, "axis": null},
       "y": {"field": "e", "type": "quantitative", "scale": {"domain": [-35, 105], "nice": false, "zero": false}, "axis": null},
       "text": {"field": "label"}}},
     {"data": {"name": "c"}, "transform": [{"filter": "datum.t > 10"}], "mark": {"type": "point", "opacity": 0},
      "encoding": {
       "x": {"field": "t", "type": "quantitative", "scale": {"type": "log", "domain": [10, 3000], "range": [127, 210], "nice": false}, "axis": {"orient": "top", "labels": false, "title": null, "values": [50, 100, 1000, 2000]}},
       "y": {"field": "e", "type": "quantitative", "scale": {"domain": [-35, 105], "nice": false, "zero": false}, "axis": {"orient": "right", "labels": false, "title": null, "values": [-30,-20,-10,0,10,20,30,40,50,60,70,80,90,100]}}}}
    ]}
  ]},
 {"width": 210, "height": 235, "title": {"text": "(d)", "dx": -9},
  "resolve": {"scale": {"x": "independent", "y": "independent"}, "axis": {"x": "independent", "y": "independent"}},
  "layer": [
   {"resolve": {"axis": {"x": "independent", "y": "independent"}},
    "layer": [
     {"data": {"name": "d"}, "mark": {"type": "line", "strokeWidth": 2.5},
      "encoding": {
       "x": {"field": "x", "type": "quantitative", "scale": {"domain": [2.0, 3.52], "nice": false, "zero": false}, "axis": {"orient": "bottom", "title": "Photon energy (eV)", "values": [2.1,2.2,2.3,2.4,2.5,2.6,2.7,2.8,2.9,3.0,3.1,3.2,3.3,3.4,3.5], "labelExpr": "indexof([2.1, 2.4, 2.7, 3, 3.3], datum.value) >= 0 ? format(datum.value, '.1f') : ''"}},
       "y": {"field": "y", "type": "quantitative", "scale": {"domain": [-3.5, 0.5], "nice": false, "zero": false}, "axis": {"orient": "left", "title": "Δ(ε₂)", "values": [-3,-2.5,-2,-1.5,-1,-0.5,0,0.5], "labelExpr": "replace(format(datum.value, '.1f'), '\u2212', '-')"}},
       "color": {"field": "s", "type": "nominal", "scale": {"domain": ["k", "r"], "range": ["#000000", "#ff0000"]}, "legend": null}}},
     {"data": {"name": "d"}, "mark": {"type": "point", "opacity": 0},
      "encoding": {
       "x": {"field": "x", "type": "quantitative", "scale": {"domain": [2.0, 3.52], "nice": false, "zero": false}, "axis": {"orient": "top", "labels": false, "title": null, "values": [2.1,2.2,2.3,2.4,2.5,2.6,2.7,2.8,2.9,3.0,3.1,3.2,3.3,3.4,3.5]}},
       "y": {"field": "y", "type": "quantitative", "scale": {"domain": [-3.5, 0.5], "nice": false, "zero": false}, "axis": {"orient": "right", "labels": false, "title": null, "values": [-3,-2.5,-2,-1.5,-1,-0.5,0]}}}}
    ]},
   {"resolve": {"axis": {"x": "independent", "y": "independent"}},
    "layer": [
     {"data": {"name": "dins"}, "mark": {"type": "line", "strokeWidth": 3},
      "encoding": {
       "x": {"field": "x", "type": "quantitative", "scale": {"domain": [2.0, 2.8], "range": [0, 130], "nice": false, "zero": false}, "axis": {"orient": "top", "offset": -85, "title": "Photon energy [eV]", "titleFontSize": 14, "labelFontSize": 13, "labelPadding": 10, "titlePadding": 3, "values": [2.1,2.2,2.3,2.4,2.5,2.6,2.7], "labelExpr": "indexof([2.1, 2.3, 2.5, 2.7], datum.value) >= 0 ? format(datum.value, '.1f') : ''"}},
       "y": {"field": "y", "type": "quantitative", "scale": {"domain": [-0.263, 0.395], "range": [235, 85], "nice": false, "zero": false}, "axis": {"orient": "right", "offset": -80, "title": "Δ(ε₂)", "titleAngle": 270, "titleX": 22, "titleY": 142, "titleBaseline": "middle", "titleAlign": "center", "titleFontSize": 16, "labelFontSize": 12, "values": [-0.15, 0, 0.15, 0.3], "labelExpr": "datum.value == 0 || datum.value == 0.3 ? format(datum.value, '.1f') : ''"}},
       "color": {"field": "s", "type": "nominal", "scale": {"domain": ["k", "r"], "range": ["#000000", "#ff0000"]}, "legend": null}}},
     {"data": {"values": [{"x": 2.507, "y": -0.16, "label": "×10"}]}, "mark": {"type": "text", "fontSize": 15, "color": "#ff0000"},
      "encoding": {
       "x": {"field": "x", "type": "quantitative", "scale": {"domain": [2.0, 2.8], "range": [0, 130], "nice": false, "zero": false}, "axis": null},
       "y": {"field": "y", "type": "quantitative", "scale": {"domain": [-0.263, 0.395], "range": [235, 85], "nice": false, "zero": false}, "axis": null},
       "text": {"field": "label"}}}
    ]}
  ]}
]
}
